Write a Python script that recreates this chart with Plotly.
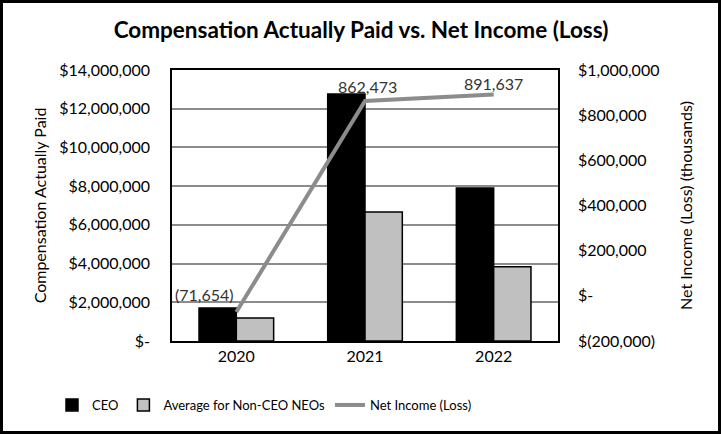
import plotly.graph_objects as go

years = ["2020", "2021", "2022"]
ceo = [1700000, 12760000, 7900000]
non_ceo = [1190000, 6670000, 3840000]
net_income = [-71654, 862473, 891637]
net_labels = ["(71,654)", "862,473", "891,637"]

left_vals = [0, 2000000, 4000000, 6000000, 8000000, 10000000, 12000000, 14000000]
left_text = ["$-", "$2,000,000", "$4,000,000", "$6,000,000", "$8,000,000", "$10,000,000", "$12,000,000", "$14,000,000"]
right_vals = [-200000, 0, 200000, 400000, 600000, 800000, 1000000]
right_text = ["$(200,000)", "$-", "$200,000", "$400,000", "$600,000", "$800,000", "$1,000,000"]

FONT = "Lato, Open Sans, sans-serif"
L, R, T, B = 172, 163, 70, 93
PW, PH = 721 - L - R, 434 - T - B

fig = go.Figure()
fig.add_trace(go.Bar(x=years, y=ceo, name="CEO", marker=dict(color="#000000", line=dict(color="#000000", width=1.5))))
fig.add_trace(go.Bar(x=years, y=non_ceo, name="Average for Non-CEO NEOs",
                     marker=dict(color="#c0c0c0", line=dict(color="#000000", width=1.5))))
fig.add_trace(go.Scatter(x=years, y=net_income, name="Net Income (Loss)", yaxis="y2", mode="lines",
                         line=dict(color="#8c8c8c", width=4)))

label_style = [dict(xanchor="right", yshift=18, xshift=0), dict(xanchor="center", yshift=15, xshift=2),
               dict(xanchor="center", yshift=11, xshift=0)]
annotations = [dict(x=i, y=y, xref="x", yref="y2", text=t, showarrow=False, yanchor="middle",
                    font=dict(size=16, color="#333333", family=FONT), **st)
               for i, (y, t, st) in enumerate(zip(net_income, net_labels, label_style))]

fig.update_layout(
    width=721, height=434,
    margin=dict(l=L, r=R, t=T, b=B, autoexpand=False),
    paper_bgcolor="white", plot_bgcolor="white",
    font=dict(family=FONT, size=16, color="#222222"),
    title=dict(text="<b>Compensation Actually Paid vs. Net Income (Loss)</b>", x=(361 - L) / PW, xanchor="center",
               xref="paper", y=1 - 30 / 434, yanchor="middle", font=dict(size=22.5, color="#000000", family=FONT)),
    barmode="group", bargap=0.42, bargroupgap=0,
    showlegend=True,
    legend=dict(orientation="h", x=(52 - L) / PW, xanchor="left", y=(341 - 405) / PH, yanchor="middle",
                font=dict(size=13, color="#000000"), traceorder="normal", itemwidth=30),
    annotations=annotations,
    xaxis=dict(type="category", range=[-0.5, len(years) - 0.5], showline=True, linecolor="#000000",
               linewidth=1.5, mirror=True, ticks="", tickfont=dict(size=16, color="#000000"), automargin=False),
    yaxis=dict(range=[0, 14000000], tickvals=left_vals, ticktext=left_text, showgrid=True,
               gridcolor="#8c8c8c", gridwidth=1.5, showline=True, linecolor="#000000", linewidth=1.5,
               zeroline=False, tickfont=dict(size=16, color="#000000"), ticklabelstandoff=17,
               automargin=False,
               title=dict(text="Compensation Actually Paid", font=dict(size=16, color="#000000"), standoff=9)),
    yaxis2=dict(range=[-200000, 1000000], tickvals=right_vals, ticktext=right_text, overlaying="y",
                side="right", showgrid=False, zeroline=False, showline=True, linecolor="#000000", linewidth=1.5,
                tickfont=dict(size=16, color="#000000"), ticklabelstandoff=15, automargin=False,
                title=dict(text="Net Income (Loss) (thousands)", font=dict(size=16, color="#000000"), standoff=22)),
    shapes=[dict(type="rect", xref="paper", yref="paper", x0=-L / PW, x1=1 + R / PW, y0=-B / PH, y1=1 + T / PH,
                 line=dict(color="#000000", width=6))]
)

fig.write_html("out.html", config={"displayModeBar": False},
               post_script="document.body.style.margin='0';document.body.style.overflow='hidden';")
